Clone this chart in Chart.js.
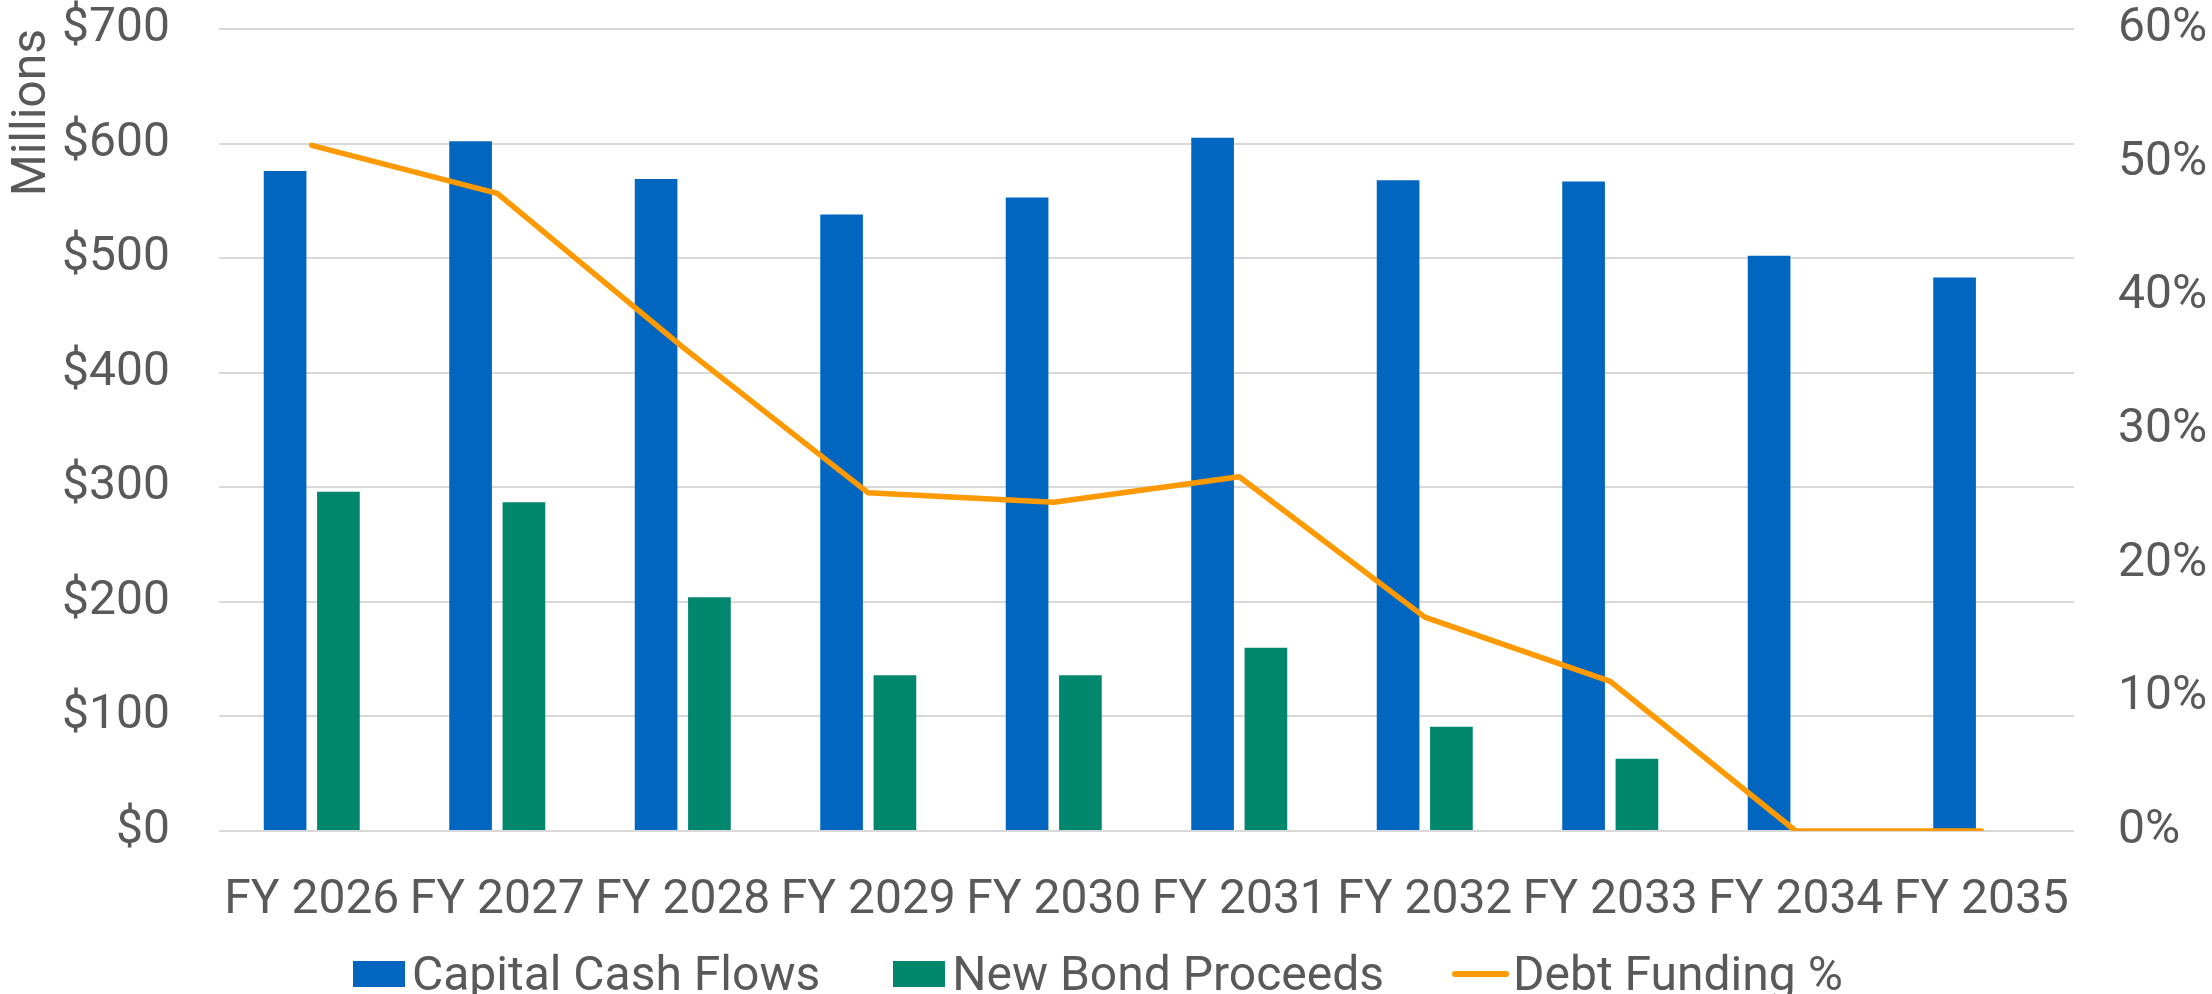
<!DOCTYPE html>
<html>
<head>
<meta charset="utf-8">
<script src="https://cdn.jsdelivr.net/npm/chart.js@4/dist/chart.umd.min.js"></script>
<style>
    html, body { margin: 0; padding: 0; background: #fff; }
    #wrap { position: relative; width: 2212px; height: 994px; }
    #legend {
        position: absolute; left: 353px; top: 950px;
        display: flex; align-items: center;
        font-family: Roboto, sans-serif; font-size: 48px; line-height: 48px; color: #595959;
        white-space: nowrap;
    }
    .item { display: flex; align-items: center; margin-right: 73px; }
    .item:nth-child(2) { margin-right: 68px; }
    .box { width: 52px; height: 26px; margin-right: 7px; }
    .line { width: 57px; height: 6px; border-radius: 3px; margin-right: 4px; }
</style>
</head>
<body>
<div id="wrap">
    <canvas id="chart"></canvas>
    <div id="legend"></div>
</div>
<script>
const categories = ['FY 2026', 'FY 2027', 'FY 2028', 'FY 2029', 'FY 2030', 'FY 2031', 'FY 2032', 'FY 2033', 'FY 2034', 'FY 2035'];
const capitalCashFlows = [576, 602, 569, 538, 553, 605, 568, 567, 502, 483];
const newBondProceeds = [296, 287, 204, 136, 136, 160, 91, 63, 0, 0];
const debtFundingPct = [51.3, 47.7, 36.2, 25.3, 24.6, 26.5, 16.0, 11.2, 0, 0];
const dollarTicks = [0, 100, 200, 300, 400, 500, 600, 700];
const percentTicks = [0, 10, 20, 30, 40, 50, 60];

const textColor = '#595959';
const gridColor = '#d9d9d9';
const font = { family: 'Roboto', size: 48 };

const chart = new Chart(document.getElementById('chart'), {
    type: 'bar',
    data: {
        labels: categories,
        datasets: [
            {
                type: 'line',
                label: 'Debt Funding %',
                data: debtFundingPct,
                yAxisID: 'y1',
                borderColor: '#ff9900',
                backgroundColor: '#ff9900',
                borderWidth: 5.5,
                borderCapStyle: 'round',
                borderJoinStyle: 'round',
                pointRadius: 0,
                tension: 0,
                order: 0
            },
            {
                label: 'Capital Cash Flows',
                data: capitalCashFlows,
                yAxisID: 'y',
                backgroundColor: '#0066c0',
                categoryPercentage: 0.575,
                barPercentage: 0.8,
                order: 1
            },
            {
                label: 'New Bond Proceeds',
                data: newBondProceeds,
                yAxisID: 'y',
                backgroundColor: '#00876d',
                categoryPercentage: 0.575,
                barPercentage: 0.8,
                order: 1
            }
        ]
    },
    options: {
        responsive: true,
        maintainAspectRatio: false,
        animation: false,
        layout: { padding: { top: 29, left: 0, right: 0, bottom: 0 } },
        plugins: {
            legend: { display: false },
            tooltip: { enabled: false }
        },
        scales: {
            x: {
                grid: { display: false },
                border: { display: false },
                ticks: { color: textColor, font: font, padding: 33, maxRotation: 0, autoSkip: false },
                afterFit(scale) { scale.height = 163; }
            },
            y: {
                position: 'left',
                min: 0,
                max: 700,
                // transparent tick marks give the gap between labels and plot
                grid: { color: gridColor, lineWidth: 2, drawTicks: true, tickLength: 49, tickColor: 'rgba(0,0,0,0)' },
                border: { display: false },
                afterBuildTicks(scale) { scale.ticks = dollarTicks.map(v => ({ value: v })); },
                ticks: { color: textColor, font: font, padding: 0, callback: v => '$' + v },
                title: { display: true, text: 'Millions', align: 'end', color: textColor, font: font, padding: { top: 4, bottom: 0 } },
                afterFit(scale) { scale.width = 219; }
            },
            y1: {
                position: 'right',
                min: 0,
                max: 60,
                grid: { drawOnChartArea: false, drawTicks: true, tickLength: 44, tickColor: 'rgba(0,0,0,0)' },
                border: { display: false },
                afterBuildTicks(scale) { scale.ticks = percentTicks.map(v => ({ value: v })); },
                ticks: { color: textColor, font: font, padding: 0, callback: v => v + '%' },
                afterFit(scale) { scale.width = 138; }
            }
        }
    }
});

// legend in html, same order as the reference
const legend = document.getElementById('legend');
['Capital Cash Flows', 'New Bond Proceeds', 'Debt Funding %'].forEach(name => {
    const ds = chart.data.datasets.find(d => d.label === name);
    const item = document.createElement('div');
    item.className = 'item';
    const swatch = document.createElement('span');
    swatch.className = ds.type === 'line' ? 'line' : 'box';
    swatch.style.background = ds.backgroundColor;
    const label = document.createElement('span');
    label.textContent = name;
    item.appendChild(swatch);
    item.appendChild(label);
    legend.appendChild(item);
});
</script>
</body>
</html>
